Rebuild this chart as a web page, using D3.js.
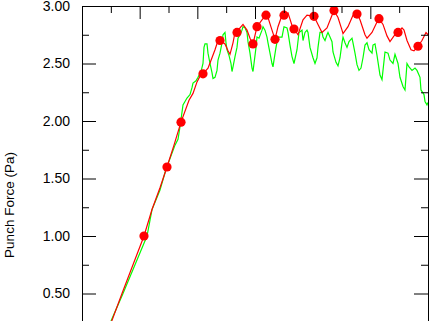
<!DOCTYPE html>
<html>
<head>
<meta charset="utf-8">
<script src="https://cdn.jsdelivr.net/npm/d3@7"></script>
<style>
  html, body { margin: 0; padding: 0; background: #fff; }
  svg { display: block; }
  text { font-family: "Liberation Sans", Arial, sans-serif; fill: #000; }
</style>
</head>
<body>
<svg id="chart" width="441" height="321"></svg>
<script>
// ---- data (x = sample step, y = punch force in Pa) ----
const greenX = [29,41,53,65,70,78,84,93,96,98,101,105,108,110,111,114,116,119,121,122,123,125,126,128,130,131,133,135,136,138,140,141,143,144,145,147,149,150,151,153,155,156,158,160,161,163,165,166,168,170,171,172,174,175,177,180,181,183,185,186,188,190,191,192,194,196,200,202,205,206,208,210,212,215,217,220,221,223,225,226,228,231,233,235,236,238,240,241,243,245,246,248,250,251,254,256,258,260,261,263,265,267,270,271,273,275,277,279,281,283,285,287,290,291,293,295,298,300,303,306,308,311,313,316,318,321,323,325,327,330,333,335,338,339,342,343,345,346];
const greenY = [0.26,0.50,0.75,1.00,1.23,1.40,1.58,1.79,1.84,1.95,2.14,2.20,2.23,2.29,2.33,2.35,2.38,2.43,2.50,2.64,2.67,2.67,2.59,2.50,2.42,2.37,2.38,2.44,2.53,2.59,2.68,2.75,2.77,2.68,2.62,2.57,2.50,2.43,2.47,2.56,2.64,2.72,2.75,2.79,2.82,2.81,2.77,2.69,2.59,2.46,2.43,2.50,2.64,2.73,2.72,2.79,2.82,2.79,2.73,2.68,2.59,2.50,2.47,2.53,2.64,2.73,2.73,2.82,2.81,2.77,2.66,2.56,2.50,2.62,2.77,2.79,2.70,2.77,2.79,2.77,2.64,2.55,2.50,2.55,2.64,2.77,2.77,2.73,2.70,2.75,2.77,2.73,2.69,2.60,2.51,2.48,2.55,2.68,2.73,2.68,2.64,2.69,2.72,2.68,2.59,2.49,2.44,2.46,2.55,2.66,2.68,2.62,2.59,2.66,2.67,2.57,2.40,2.36,2.60,2.59,2.53,2.50,2.58,2.50,2.38,2.30,2.27,2.50,2.47,2.44,2.46,2.44,2.38,2.27,2.23,2.17,2.14,2.16];

const redX = [28,40,51,62,70,78,85,92,99,107,111,115,118,121,126,130,133,136,138,143,146,148,151,153,155,158,161,165,168,171,175,180,184,186,190,193,196,200,202,206,210,212,216,221,225,232,236,240,245,250,252,256,260,261,266,271,275,278,283,285,290,295,297,301,305,308,312,316,320,322,325,329,332,336,340,344,346];
const redY = [0.22,0.50,0.75,1.00,1.23,1.42,1.60,1.79,1.99,2.18,2.24,2.34,2.39,2.41,2.46,2.55,2.62,2.70,2.70,2.67,2.61,2.58,2.68,2.77,2.77,2.81,2.84,2.79,2.72,2.67,2.82,2.88,2.92,2.90,2.79,2.71,2.82,2.92,2.92,2.94,2.83,2.80,2.75,2.88,2.92,2.91,2.84,2.77,2.81,2.92,2.96,2.90,2.79,2.76,2.82,2.92,2.93,2.88,2.75,2.72,2.77,2.86,2.89,2.84,2.74,2.69,2.74,2.77,2.81,2.79,2.70,2.62,2.61,2.65,2.70,2.77,2.75];

const markerX = [62,85,99,121,138,155,171,175,184,193,202,212,232,252,275,297,316,336];
const markerY = [1.00,1.60,1.99,2.41,2.70,2.77,2.67,2.82,2.92,2.71,2.92,2.80,2.91,2.96,2.93,2.89,2.77,2.65];

const yMajorTicks = [0.50,1.00,1.50,2.00,2.50,3.00];
const yMinorTicks = [0.75,1.25,1.75,2.25,2.75];
const yLabel = "Punch Force (Pa)";
const xMax = 346;

// ---- layout ----
const svg = d3.select("#chart");
const mLeft = 82, mRight = 428, mTop = 6, mBottom = 322.25;

const x = d3.scaleLinear().domain([0, xMax]).range([mLeft, mRight]);
const y = d3.scaleLinear().domain([0.25, 3.0]).range([mBottom, mTop]);

svg.append("defs").append("clipPath").attr("id", "plotclip")
  .append("rect").attr("x", mLeft).attr("y", mTop)
  .attr("width", mRight - mLeft).attr("height", mBottom - mTop);

const xMajor = d3.range(7).map(i => i * xMax / 6);
const xMinor = d3.range(6).map(i => (i + 0.5) * xMax / 6);

// data lines
const plot = svg.append("g").attr("clip-path", "url(#plotclip)");
const line = d3.line().x(d => x(d[0])).y(d => y(d[1]));
const greenData = greenX.map((v, i) => [v, greenY[i]]);
const redData = redX.map((v, i) => [v, redY[i]]);

plot.append("path").datum(greenData).attr("d", line)
  .attr("fill", "none").attr("stroke", "#00ff00").attr("stroke-width", 1.2);
plot.append("path").datum(redData).attr("d", line)
  .attr("fill", "none").attr("stroke", "#ff0000").attr("stroke-width", 1.2);

plot.selectAll("circle.m").data(markerX.map((v, i) => [v, markerY[i]]))
  .enter().append("circle").attr("class", "m")
  .attr("cx", d => x(d[0])).attr("cy", d => y(d[1])).attr("r", 4.6)
  .attr("fill", "#ff0000");

// axes
function styleAxis(g) {
  g.selectAll("path.domain").attr("stroke", "#000").attr("stroke-width", 1);
  g.selectAll(".tick line").attr("stroke", "#000").attr("stroke-width", 1);
  g.selectAll("text").attr("font-size", 14).attr("font-family", "Liberation Sans, Arial, sans-serif").attr("fill", "#000");
}

svg.append("g").attr("transform", `translate(${mLeft},0)`)
  .call(d3.axisLeft(y).tickValues(yMajorTicks).tickSizeInner(-14).tickSizeOuter(0)
    .tickPadding(12).tickFormat(d3.format(".2f")))
  .call(styleAxis);
svg.append("g").attr("transform", `translate(${mLeft},0)`)
  .call(d3.axisLeft(y).tickValues(yMinorTicks).tickSizeInner(-7).tickSizeOuter(0).tickFormat(""))
  .call(styleAxis);

svg.append("g").attr("transform", `translate(${mRight},0)`)
  .call(d3.axisRight(y).tickValues(yMajorTicks).tickSizeInner(-14).tickSizeOuter(0).tickFormat(""))
  .call(styleAxis);
svg.append("g").attr("transform", `translate(${mRight},0)`)
  .call(d3.axisRight(y).tickValues(yMinorTicks).tickSizeInner(-7).tickSizeOuter(0).tickFormat(""))
  .call(styleAxis);

svg.append("g").attr("transform", `translate(0,${mTop})`)
  .call(d3.axisTop(x).tickValues(xMajor).tickSizeInner(-13).tickSizeOuter(0).tickFormat(""))
  .call(styleAxis);
svg.append("g").attr("transform", `translate(0,${mTop})`)
  .call(d3.axisTop(x).tickValues(xMinor).tickSizeInner(-7).tickSizeOuter(0).tickFormat(""))
  .call(styleAxis);

// y label
svg.append("text")
  .attr("transform", `translate(14,205) rotate(-90)`)
  .attr("text-anchor", "middle")
  .attr("font-size", 13.5)
  .text(yLabel);
</script>
</body>
</html>
